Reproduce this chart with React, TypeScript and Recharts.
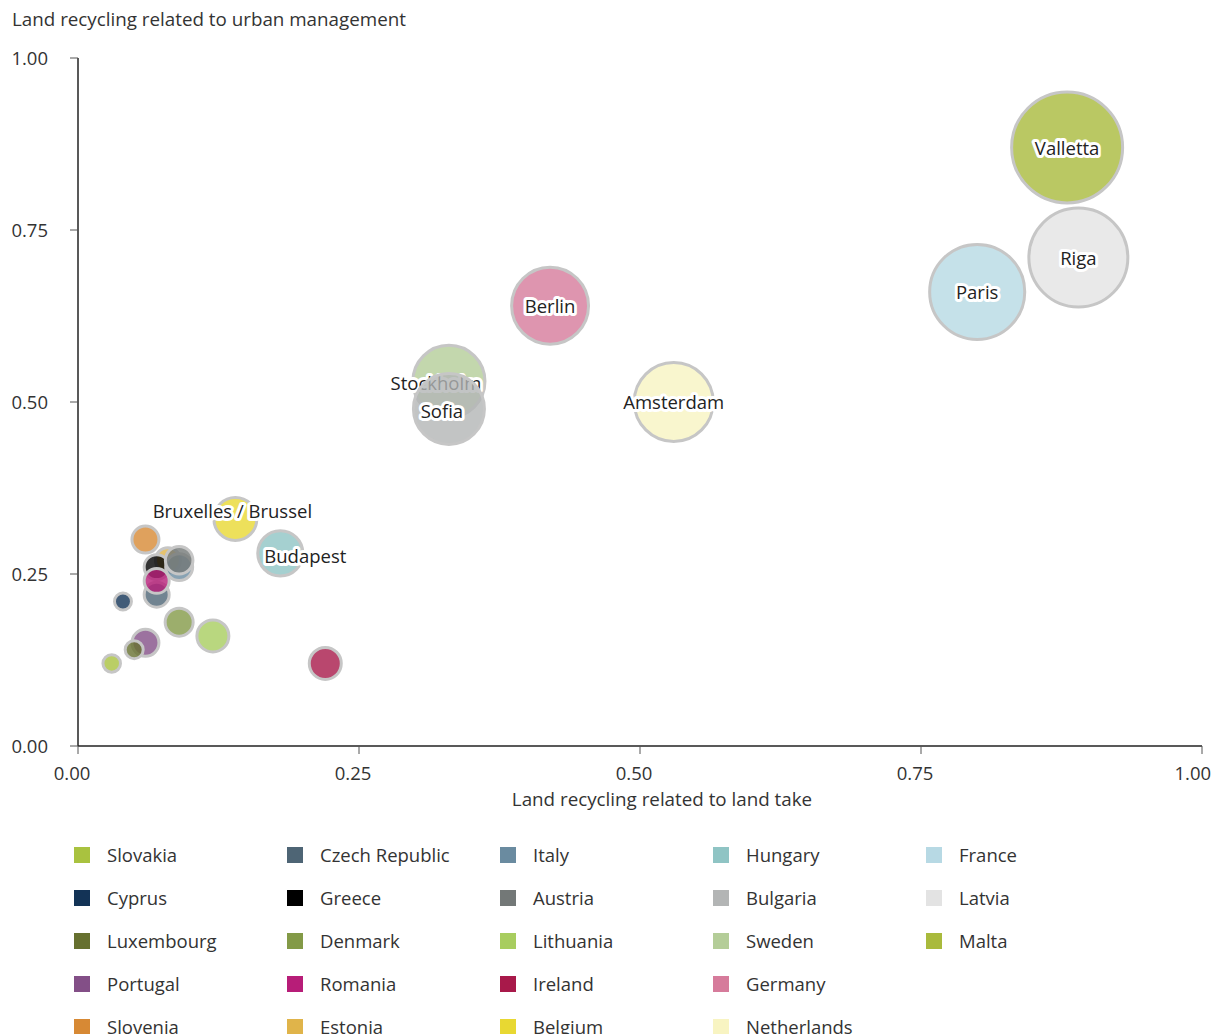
import React from "react";
import { ScatterChart, Scatter, XAxis, YAxis, ZAxis, Legend } from "recharts";

// series in drawing order (later ones sit on top)
const countries = [
  "Slovakia", "Cyprus", "Portugal", "Luxembourg", "Slovenia", "Estonia",
  "Czech Republic", "Greece", "Italy", "Austria", "Romania", "Denmark",
  "Lithuania", "Ireland", "Belgium", "Hungary", "Sweden", "Bulgaria",
  "Germany", "Netherlands", "France", "Latvia", "Malta",
];
const cities = [
  "", "", "", "", "", "",
  "", "", "", "", "", "",
  "", "", "Bruxelles / Brussel", "Budapest", "Stockholm", "Sofia",
  "Berlin", "Amsterdam", "Paris", "Riga", "Valletta",
];
// land recycling related to land take
const landTake = [
  0.03, 0.04, 0.06, 0.05, 0.06, 0.08,
  0.07, 0.07, 0.09, 0.09, 0.07, 0.09,
  0.12, 0.22, 0.14, 0.18, 0.33, 0.33,
  0.42, 0.53, 0.80, 0.89, 0.88,
];
// land recycling related to urban management
const urbanManagement = [
  0.12, 0.21, 0.15, 0.14, 0.30, 0.27,
  0.22, 0.26, 0.26, 0.27, 0.24, 0.18,
  0.16, 0.12, 0.33, 0.28, 0.53, 0.49,
  0.64, 0.50, 0.66, 0.71, 0.87,
];
// bubble size
const bubbleSize = [
  0.77, 0.72, 1.82, 0.81, 1.82, 1.56,
  1.56, 1.56, 1.82, 1.9, 1.56, 1.96,
  2.56, 2.56, 4.6, 5.1, 13.0, 12.6,
  14.8, 15.6, 22.6, 24.5, 30.8,
];
const colors = [
  "#a9c23f", "#133356", "#834f87", "#66702f", "#d78934", "#e0b44a",
  "#4e6575", "#000000", "#6a8ba0", "#737877", "#b71d78", "#839a47",
  "#a8cd5f", "#a8194a", "#e8d832", "#8fc4c4", "#b4cd98", "#b3b5b5",
  "#d67b9b", "#f8f4c2", "#b7d9e4", "#e3e3e3", "#a9ba3c",
];
// legend grid, row by row ("" = empty cell)
const legendOrder = [
  "Slovakia", "Czech Republic", "Italy", "Hungary", "France",
  "Cyprus", "Greece", "Austria", "Bulgaria", "Latvia",
  "Luxembourg", "Denmark", "Lithuania", "Sweden", "Malta",
  "Portugal", "Romania", "Ireland", "Germany", "",
  "Slovenia", "Estonia", "Belgium", "Netherlands",
];
const axisTicks = [0, 0.25, 0.5, 0.75, 1];

// small nudges so overlapping city labels stay readable
const labelNudge: Record<string, [number, number]> = {
  Stockholm: [-13, 2],
  Sofia: [-7, 3],
  Budapest: [25, 3],
  "Bruxelles / Brussel": [-3, -7],
};

const FONT = "'Open Sans', sans-serif";
const TEXT = "#333";

const series = countries.map((name, i) => ({
  name,
  color: colors[i],
  data: [{ x: landTake[i], y: urbanManagement[i], z: bubbleSize[i], city: cities[i] }],
}));
const colorByName: Record<string, string> = Object.fromEntries(
  countries.map((c, i) => [c, colors[i]])
);

const fmt = (v: number) => v.toFixed(2);

// eslint-disable-next-line @typescript-eslint/no-explicit-any
const Bubble = (props: any) => {
  const { cx, cy, size, color, payload } = props;
  const r = Math.sqrt(Math.max(size ?? 0, 0) / Math.PI);
  const city: string = payload?.city ?? "";
  const [dx, dy] = labelNudge[city] ?? [0, 1];
  return (
    <g>
      <circle cx={cx} cy={cy} r={r} fill={color} fillOpacity={0.8} stroke="#c6c6c6" strokeWidth={3} />
      {city && (
        <text
          x={cx + dx}
          y={cy + dy}
          dy="0.35em"
          textAnchor="middle"
          fontFamily={FONT}
          fontSize={18.5}
          fill="#222"
          stroke="#fff"
          strokeWidth={6}
          strokeLinejoin="round"
          paintOrder="stroke"
        >
          {city}
        </text>
      )}
    </g>
  );
};

// eslint-disable-next-line @typescript-eslint/no-explicit-any
const renderLegend = (props: any) => {
  // eslint-disable-next-line @typescript-eslint/no-explicit-any
  const byName: Record<string, any> = {};
  (props.payload ?? []).forEach((it: any) => {
    byName[it.value] = it;
  });
  return (
    <div style={{ display: "grid", gridTemplateColumns: "repeat(5, 213px)" }}>
      {legendOrder.map((name, i) =>
        name && byName[name] ? (
          <div key={name} style={{ display: "flex", alignItems: "center", height: 43 }}>
            <span
              style={{
                width: 16,
                height: 16,
                background: colorByName[name] ?? byName[name].color,
                marginRight: 17,
                flex: "none",
              }}
            />
            <span style={{ fontFamily: FONT, fontSize: 18.5, color: TEXT }}>{name}</span>
          </div>
        ) : (
          <div key={`blank-${i}`} style={{ height: 43 }} />
        )
      )}
    </div>
  );
};

// eslint-disable-next-line @typescript-eslint/no-explicit-any
const renderYTitle = (props: any) => {
  const vb = props.viewBox ?? { x: 18, y: 58 };
  return (
    <text x={vb.x - 6} y={vb.y - 32} fontFamily={FONT} fontSize={18.8} fill={TEXT}>
      Land recycling related to urban management
    </text>
  );
};

export default function App() {
  return (
    <div
      style={{
        position: "absolute",
        left: 0,
        top: 0,
        width: 1215,
        height: 1034,
        overflow: "hidden",
        background: "#fff",
      }}
    >
      <ScatterChart
        width={1215}
        height={1060}
        margin={{ top: 58, right: 13, left: 18, bottom: 249 }}
        style={{ fontFamily: FONT }}
      >
        <XAxis
          type="number"
          dataKey="x"
          domain={[0, 1]}
          ticks={axisTicks}
          tickFormatter={fmt}
          height={65}
          axisLine={{ stroke: "#222", strokeWidth: 1.5 }}
          tickLine={{ stroke: "#555" }}
          tickSize={8}
          tickMargin={13}
          tick={{ fontSize: 18.5, fill: TEXT, dx: -6 }}
          label={{
            value: "Land recycling related to land take",
            position: "insideBottom",
            offset: 5,
            dx: 22,
            fontSize: 18.8,
            fill: TEXT,
          }}
        />
        <YAxis
          type="number"
          dataKey="y"
          domain={[0, 1]}
          ticks={axisTicks}
          tickFormatter={fmt}
          width={60}
          axisLine={{ stroke: "#222", strokeWidth: 1.5 }}
          tickLine={{ stroke: "#555" }}
          tickSize={8}
          tickMargin={22}
          tick={{ fontSize: 18.5, fill: TEXT }}
          label={renderYTitle}
        />
        <ZAxis type="number" dataKey="z" domain={[0, 40]} range={[0, 40 * 100 * Math.PI]} />
        <Legend
          content={renderLegend}
          layout="horizontal"
          verticalAlign="middle"
          align="center"
          wrapperStyle={{ left: 74, top: 833, width: 1100 }}
        />
        {series.map((s) => (
          <Scatter
            key={s.name}
            name={s.name}
            data={s.data}
            fill={s.color}
            legendType="square"
            isAnimationActive={false}
            shape={(p: any) => <Bubble {...p} color={s.color} />}
          />
        ))}
      </ScatterChart>
    </div>
  );
}
